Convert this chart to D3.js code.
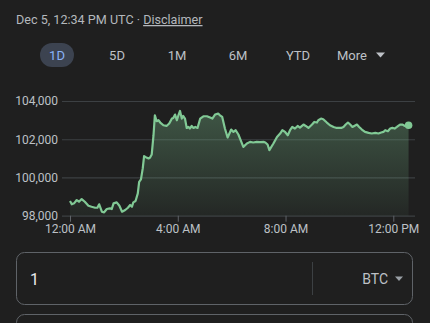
<!DOCTYPE html>
<html>
<head>
<meta charset="utf-8">
<script src="https://cdn.jsdelivr.net/npm/d3@7/dist/d3.min.js"></script>
<style>
  html, body { margin: 0; padding: 0; background: #1f1f1f; }
  svg { display: block; font-family: Roboto, "Noto Sans", sans-serif; }
</style>
</head>
<body>
<svg id="chart" width="430" height="323"></svg>
<script>
// Bitcoin price (USD) through Dec 5, minutes after midnight UTC
const minutes = [0, 4, 9, 15, 20, 26, 33, 41, 48, 56, 61, 65, 71, 76, 82, 89, 93, 97, 104, 110,
  116, 123, 129, 134, 138, 141, 146, 151, 154, 158, 162, 165, 169, 175, 178, 182, 186, 189, 193, 197,
  201, 208, 215, 221, 227, 230, 234, 238, 241, 245, 249, 252, 256, 260, 264, 267, 271, 275, 279, 284,
  290, 297, 305, 312, 317, 323, 330, 334, 339, 345, 351, 354, 359, 364, 369, 375, 380, 386, 394, 401,
  408, 416, 423, 431, 435, 440, 444, 453, 461, 468, 473, 479, 485, 490, 495, 501, 507, 512, 520, 525,
  531, 539, 544, 550, 553, 559, 564, 572, 579, 587, 594, 604, 609, 614, 619, 624, 629, 633, 639, 644,
  650, 657, 665, 672, 680, 687, 693, 698, 702, 708, 713, 718, 723, 728, 735, 740, 746, 754];
const prices = [98767, 98595, 98647, 98819, 98730, 98871, 98730, 98522, 98470, 98417, 98417, 98595, 98209, 98177, 98350, 98386, 98350, 98647, 98699, 98522,
  98209, 98297, 98417, 98558, 98470, 98699, 98767, 99169, 99774, 99899, 100473, 101115, 101062, 100995, 101026, 101203, 102210, 103253, 102941, 102993,
  102873, 102732, 102695, 102821, 103081, 103113, 103290, 102993, 103217, 103478, 103081, 103217, 103081, 102591, 102643, 102560, 102695, 102591, 102643, 102591,
  103081, 103201, 103201, 103134, 103081, 103290, 103342, 103253, 103165, 102560, 102090, 102247, 102508, 102382, 102471, 102247, 101950, 101600, 101777, 101861,
  101829, 101861, 101845, 101861, 101829, 101725, 101428, 101777, 102121, 102299, 102471, 102382, 102210, 102471, 102643, 102560, 102695, 102612, 102768, 102695,
  102591, 102768, 102904, 102873, 102993, 103081, 103045, 102873, 102732, 102643, 102591, 102591, 102643, 102768, 102873, 102768, 102643, 102695, 102768, 102643,
  102508, 102382, 102330, 102299, 102330, 102299, 102351, 102382, 102471, 102419, 102560, 102591, 102560, 102643, 102768, 102768, 102695, 102732, 102821];

const yTicks = [98000, 100000, 102000, 104000];
const xTicks = [0, 240, 480, 720];
const xTickLabels = ["12:00 AM", "4:00 AM", "8:00 AM", "12:00 PM"];
const ranges = ["1D", "5D", "1M", "6M", "YTD", "More"];
const headerDate = "Dec 5, 12:34 PM UTC";
const headerLink = "Disclaimer";
const amount = "1";
const currency = "BTC";

const svg = d3.select("#chart");
const green = "#81c995";
const textGray = "#bdc1c6";

// Header line
const head = svg.append("text").attr("x", 16).attr("y", 24)
  .attr("font-size", 12.6).attr("fill", "#b4b8bd");
head.append("tspan").text(headerDate + " · ");
head.append("tspan").text(headerLink).attr("text-decoration", "underline");

// Range selector
const rangeX = [57, 117, 177, 238, 298, 352];
ranges.forEach((r, i) => {
  if (i === 0) {
    svg.append("rect").attr("x", rangeX[i] - 17).attr("y", 43).attr("width", 34).attr("height", 24)
      .attr("rx", 12).attr("fill", "#3c4350");
  }
  svg.append("text").attr("x", rangeX[i]).attr("y", 59.5).attr("text-anchor", "middle")
    .attr("font-size", 13).attr("fill", i === 0 ? "#8ab4f8" : textGray).text(r);
});
svg.append("path").attr("d", "M376,52.5 L385,52.5 L380.5,57.5 Z").attr("fill", textGray);

// Scales
const x = d3.scaleLinear().domain([0, 720]).range([70, 393.3]);
const y = d3.scaleLinear().domain([98000, 104000]).range([215.7, 101]);
const plotLeft = 62, plotRight = 415;

// Y axis with gridlines
const yAxis = svg.append("g").attr("transform", `translate(${plotLeft},0)`)
  .call(d3.axisLeft(y).tickValues(yTicks).tickSize(-(plotRight - plotLeft)).tickPadding(4)
    .tickFormat(d3.format(",")));
yAxis.select(".domain").remove();
yAxis.selectAll(".tick line").attr("stroke", "#3c4043").attr("stroke-width", 1.2);
yAxis.selectAll(".tick text").attr("fill", textGray).attr("font-size", 12)
  .attr("font-family", "Roboto, sans-serif");

// Area + line
const grad = svg.append("defs").append("linearGradient").attr("id", "fillGrad")
  .attr("gradientUnits", "userSpaceOnUse").attr("x1", 0).attr("x2", 0)
  .attr("y1", y(103500)).attr("y2", y(98000));
grad.append("stop").attr("offset", 0).attr("stop-color", green).attr("stop-opacity", 0.32);
grad.append("stop").attr("offset", 1).attr("stop-color", green).attr("stop-opacity", 0.05);

const data = minutes.map((m, i) => ({ m, p: prices[i] }));
svg.append("path").datum(data)
  .attr("d", d3.area().x(d => x(d.m)).y0(y(98000)).y1(d => y(d.p)))
  .attr("fill", "url(#fillGrad)");
svg.append("path").datum(data)
  .attr("d", d3.line().x(d => x(d.m)).y(d => y(d.p)))
  .attr("fill", "none").attr("stroke", green).attr("stroke-width", 2.2)
  .attr("stroke-linejoin", "round");
const last = data[data.length - 1];
svg.append("circle").attr("cx", x(last.m)).attr("cy", y(last.p)).attr("r", 3.8).attr("fill", green);

// X axis
const xAxis = svg.append("g").attr("transform", `translate(0,${y(98000)})`)
  .call(d3.axisBottom(x).tickValues(xTicks).tickSize(6).tickPadding(3)
    .tickFormat((d, i) => xTickLabels[i]));
xAxis.select(".domain").remove();
xAxis.selectAll(".tick line").attr("stroke", "#5f6368");
xAxis.selectAll(".tick text").attr("fill", textGray).attr("font-size", 12)
  .attr("font-family", "Roboto, sans-serif");

// Converter input
svg.append("rect").attr("x", 16.5).attr("y", 252.5).attr("width", 396).attr("height", 52)
  .attr("rx", 8).attr("fill", "none").attr("stroke", "#5f6368");
svg.append("line").attr("x1", 312.5).attr("x2", 312.5).attr("y1", 262).attr("y2", 295)
  .attr("stroke", "#3c4043");
svg.append("text").attr("x", 30).attr("y", 285).attr("font-size", 16).attr("fill", "#e8eaed").text(amount);
svg.append("text").attr("x", 388).attr("y", 284).attr("text-anchor", "end")
  .attr("font-size", 14).attr("fill", textGray).text(currency);
svg.append("path").attr("d", "M395,276.5 L403,276.5 L399,281 Z").attr("fill", "#9aa0a6");
svg.append("rect").attr("x", 16.5).attr("y", 314.5).attr("width", 396).attr("height", 52)
  .attr("rx", 8).attr("fill", "none").attr("stroke", "#5f6368");
</script>
</body>
</html>
